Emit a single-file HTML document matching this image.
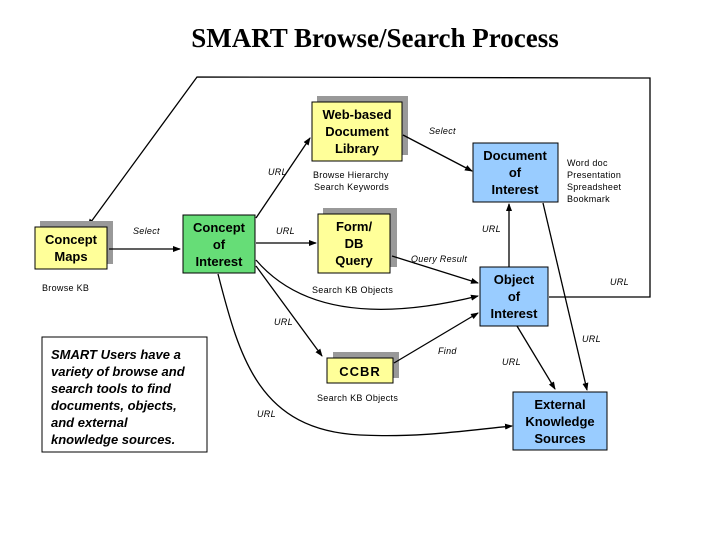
<!DOCTYPE html>
<html><head><meta charset="utf-8"><style>
body{margin:0;background:#fff}
svg{display:block}
.b{font-family:"Liberation Sans",sans-serif;font-weight:bold;font-size:13px;text-anchor:middle}
.s{font-family:"Liberation Sans",sans-serif;font-size:9px;letter-spacing:0.3px}
.i{font-family:"Liberation Sans",sans-serif;font-size:9px;font-style:italic;letter-spacing:0.3px}
</style></head><body>
<svg width="720" height="540" viewBox="0 0 720 540">
<defs><marker id="a" markerWidth="8" markerHeight="8" refX="7" refY="4" orient="auto" markerUnits="userSpaceOnUse"><path d="M0,1 L8,4 L0,7 z" fill="#000"/></marker></defs>
<text x="375" y="47" text-anchor="middle" font-family="Liberation Serif,serif" font-weight="bold" font-size="27">SMART Browse/Search Process</text>
<polyline points="549,297 650,297 650,78 197,77 88,226" fill="none" stroke="#000" stroke-width="1.3" marker-end="url(#a)"/>
<rect x="40" y="221" width="73" height="43" fill="#999"/>
<rect x="317" y="96" width="91" height="59" fill="#999"/>
<rect x="323" y="208" width="74" height="59" fill="#999"/>
<rect x="333" y="352" width="66" height="26" fill="#999"/>
<rect x="35" y="227" width="72" height="42" fill="#ffff99" stroke="#000"/>
<rect x="183" y="215" width="72" height="58" fill="#66dd77" stroke="#000"/>
<rect x="312" y="102" width="90" height="59" fill="#ffff99" stroke="#000"/>
<rect x="318" y="214" width="72" height="59" fill="#ffff99" stroke="#000"/>
<rect x="473" y="143" width="85" height="59" fill="#99ccff" stroke="#000"/>
<rect x="480" y="267" width="68" height="59" fill="#99ccff" stroke="#000"/>
<rect x="327" y="358" width="66" height="25" fill="#ffff99" stroke="#000"/>
<rect x="513" y="392" width="94" height="58" fill="#99ccff" stroke="#000"/>
<rect x="42" y="337" width="165" height="115" fill="#fff" stroke="#000"/>
<text class="b"><tspan x="71" y="244">Concept</tspan><tspan x="71" y="261">Maps</tspan></text>
<text class="b"><tspan x="219" y="232">Concept</tspan><tspan x="219" y="249">of</tspan><tspan x="219" y="266">Interest</tspan></text>
<text class="b"><tspan x="357" y="119">Web-based</tspan><tspan x="357" y="136">Document</tspan><tspan x="357" y="153">Library</tspan></text>
<text class="b"><tspan x="354" y="231">Form/</tspan><tspan x="354" y="248">DB</tspan><tspan x="354" y="265">Query</tspan></text>
<text class="b"><tspan x="515" y="160">Document</tspan><tspan x="515" y="177">of</tspan><tspan x="515" y="194">Interest</tspan></text>
<text class="b"><tspan x="514" y="284">Object</tspan><tspan x="514" y="301">of</tspan><tspan x="514" y="318">Interest</tspan></text>
<text class="b" x="360" y="376" letter-spacing="1">CCBR</text>
<text class="b"><tspan x="560" y="409">External</tspan><tspan x="560" y="426">Knowledge</tspan><tspan x="560" y="443">Sources</tspan></text>
<text font-family="Liberation Sans,sans-serif" font-weight="bold" font-style="italic" font-size="13"><tspan x="51" y="359">SMART Users have a</tspan><tspan x="51" y="376">variety of browse and</tspan><tspan x="51" y="393">search tools to find</tspan><tspan x="51" y="410">documents, objects,</tspan><tspan x="51" y="427">and external</tspan><tspan x="51" y="444">knowledge sources.</tspan></text>
<text class="s" x="42" y="291">Browse KB</text>
<text class="s" x="313" y="178">Browse Hierarchy</text>
<text class="s" x="314" y="190">Search Keywords</text>
<text class="s" x="312" y="293">Search KB Objects</text>
<text class="s" x="317" y="401">Search KB Objects</text>
<text class="s"><tspan x="567" y="166">Word doc</tspan><tspan x="567" y="178">Presentation</tspan><tspan x="567" y="190">Spreadsheet</tspan><tspan x="567" y="202">Bookmark</tspan></text>
<text class="i" x="133" y="234">Select</text>
<text class="i" x="268" y="175">URL</text>
<text class="i" x="276" y="234">URL</text>
<text class="i" x="429" y="134">Select</text>
<text class="i" x="411" y="262">Query Result</text>
<text class="i" x="482" y="232">URL</text>
<text class="i" x="610" y="285">URL</text>
<text class="i" x="274" y="325">URL</text>
<text class="i" x="438" y="354">Find</text>
<text class="i" x="502" y="365">URL</text>
<text class="i" x="582" y="342">URL</text>
<text class="i" x="257" y="417">URL</text>
<g fill="none" stroke="#000" stroke-width="1.3" marker-end="url(#a)">
<line x1="109" y1="249" x2="180" y2="249"/>
<line x1="256" y1="218" x2="310" y2="138"/>
<line x1="256" y1="243" x2="316" y2="243"/>
<line x1="403" y1="135" x2="472" y2="171"/>
<line x1="392" y1="256" x2="478" y2="283"/>
<line x1="509" y1="267" x2="509" y2="204"/>
<path d="M256,260 Q320,335 478,296"/>
<line x1="256" y1="266" x2="322" y2="356"/>
<line x1="394" y1="363" x2="478" y2="313"/>
<line x1="517" y1="326" x2="555" y2="389"/>
<line x1="543" y1="203" x2="587" y2="390"/>
<path d="M218,274 C240,360 260,430 360,435 C420,438 470,430 512,426"/>
</g>
</svg>
</body></html>
